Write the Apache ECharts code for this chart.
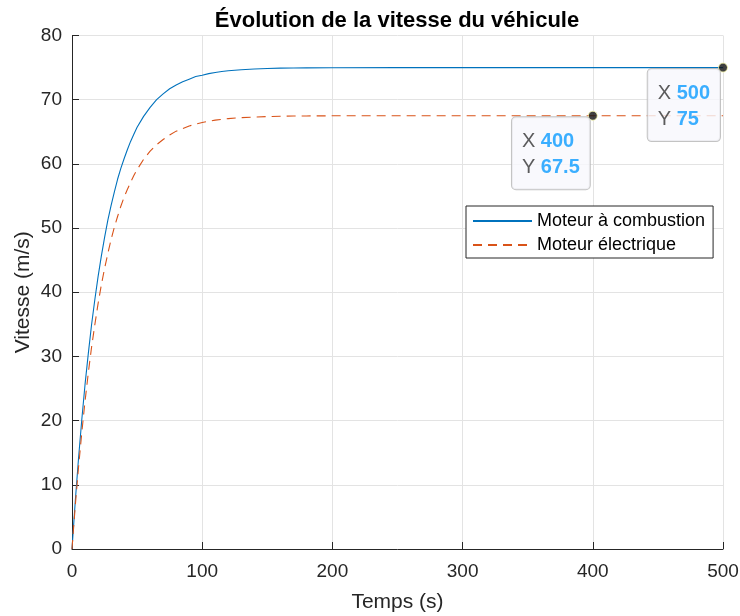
<!DOCTYPE html>
<html>
<head>
<meta charset="utf-8">
<script src="https://cdn.jsdelivr.net/npm/echarts@6/dist/echarts.min.js"></script>
<style>html,body{margin:0;padding:0;background:#fff;}#c{width:740px;height:616px;}</style>
</head>
<body>
<div id="c"></div>
<script>
// ---- data ----
const timeS = [0, 2.5, 5, 7.5, 10, 12.5, 15, 17.5, 20, 22.5, 25, 27.5, 30, 32.5, 35, 37.5, 40, 42.5, 45, 47.5, 50,
  55, 60, 65, 70, 75, 80, 85, 90, 95, 100, 105, 110, 115, 120, 130, 140, 150, 160, 170, 180, 200, 250, 300, 350, 400, 450, 500];
const vCombustion = [0, 7.4, 14.1, 20.1, 25.6, 30.4, 34.9, 38.8, 42.4, 45.6, 48.5, 51.2, 53.5, 55.6, 57.6, 59.3, 60.8, 62.2, 63.5, 64.6, 65.7,
  67.4, 68.8, 70.0, 70.9, 71.7, 72.3, 72.8, 73.2, 73.6, 73.8, 74.06, 74.24, 74.38, 74.5, 74.67, 74.78, 74.86, 74.91, 74.94, 74.96, 74.98, 75, 75, 75, 75, 75, 75];
const vElectrique = [0, 6.7, 12.7, 18.1, 23.0, 27.4, 31.4, 34.9, 38.2, 41.1, 43.7, 46.0, 48.2, 50.1, 51.8, 53.4, 54.8, 56.0, 57.1, 58.2, 59.1,
  60.7, 62.0, 63.0, 63.8, 64.5, 65.1, 65.5, 65.9, 66.2, 66.45, 66.65, 66.81, 66.94, 67.05, 67.2, 67.3, 67.37, 67.42, 67.45, 67.47, 67.49, 67.5, 67.5, 67.5, 67.5, 67.5, 67.5];
const seriesNames = ['Moteur à combustion', 'Moteur électrique'];
const tipX = [500, 400];
const tipY = [75, 67.5];
const xTicks = [0, 100, 200, 300, 400, 500];
const yTicks = [0, 10, 20, 30, 40, 50, 60, 70, 80];
const titleText = 'Évolution de la vitesse du véhicule';
const xName = 'Temps (s)';
const yName = 'Vitesse (m/s)';

const FONT = '"Liberation Sans", Arial, Helvetica, sans-serif';
const AX = '#262626';
const GRID = '#e3e3e3';

const pair = (xs, ys) => xs.map((x, i) => [x, ys[i]]);

const chart = echarts.init(document.getElementById('c'), null, {renderer: 'canvas'});
chart.setOption({
  animation: false,
  backgroundColor: '#ffffff',
  textStyle: {fontFamily: FONT},
  title: {
    text: titleText,
    left: 392,
    textAlign: 'center',
    top: 5,
    textStyle: {fontFamily: FONT, fontWeight: 'bold', fontSize: 22, color: '#000'}
  },
  grid: {left: 72, right: 17, top: 35.5, bottom: 67, containLabel: false, outerBoundsMode: 'none'},
  xAxis: {
    type: 'value',
    min: xTicks[0], max: xTicks[xTicks.length - 1], interval: xTicks[1] - xTicks[0],
    name: xName, nameLocation: 'middle', nameGap: 43, nameMoveOverlap: false,
    nameTextStyle: {fontFamily: FONT, fontSize: 21, color: AX},
    axisLine: {show: true, onZero: false, lineStyle: {color: AX, width: 1}},
    axisTick: {show: true, inside: true, length: 7, lineStyle: {color: AX}},
    axisLabel: {fontFamily: FONT, fontSize: 19, color: AX, margin: 13},
    splitLine: {show: true, lineStyle: {color: GRID, width: 1}}
  },
  yAxis: {
    type: 'value',
    min: yTicks[0], max: yTicks[yTicks.length - 1], interval: yTicks[1] - yTicks[0],
    name: yName, nameLocation: 'middle', nameGap: 38, nameMoveOverlap: false,
    nameTextStyle: {fontFamily: FONT, fontSize: 21, color: AX},
    axisLine: {show: true, onZero: false, lineStyle: {color: AX, width: 1}},
    axisTick: {show: true, inside: true, length: 7, lineStyle: {color: AX}},
    axisLabel: {fontFamily: FONT, fontSize: 19, color: AX, margin: 10},
    splitLine: {show: true, lineStyle: {color: GRID, width: 1}}
  },
  legend: {
    data: seriesNames,
    orient: 'vertical',
    left: 466, top: 206,
    padding: [6, 8, 4, 6],
    itemWidth: 59, itemHeight: 14, itemGap: 6,
    itemStyle: {opacity: 0},
    backgroundColor: '#fff',
    borderColor: AX, borderWidth: 1, borderRadius: 0,
    textStyle: {fontFamily: FONT, fontSize: 18, color: '#000'}
  },
  series: [
    {
      name: seriesNames[0], type: 'line', data: pair(timeS, vCombustion),
      symbol: 'none', smooth: false,
      lineStyle: {color: '#0072BD', width: 1.1},
      itemStyle: {color: '#0072BD'}, z: 3
    },
    {
      name: seriesNames[1], type: 'line', data: pair(timeS, vElectrique),
      symbol: 'none', smooth: false,
      lineStyle: {color: '#D95319', width: 1.1, type: [9, 6]},
      itemStyle: {color: '#D95319'}, z: 3
    },
    {
      name: 'tips', type: 'scatter', data: pair(tipX, tipY),
      symbol: 'circle', symbolSize: 9, z: 10,
      itemStyle: {color: '#111111', borderColor: '#ffffb0', borderWidth: 1},
      label: {
        show: true,
        position: [2, 6.5],
        align: 'right', verticalAlign: 'top',
        backgroundColor: '#f8f8fc',
        borderColor: '#b4b4b4', borderWidth: 1, borderRadius: 4,
        padding: [11, 10, 9, 10],
        lineHeight: 26,
        formatter: p => '{k|X }{v|' + p.value[0] + '}\n{k|Y }{v|' + p.value[1] + '}',
        rich: {
          k: {fontFamily: FONT, fontSize: 20, color: '#333', lineHeight: 26, align: 'left'},
          v: {fontFamily: FONT, fontSize: 20, fontWeight: 'bold', color: '#0a9bff', lineHeight: 26, align: 'left'}
        }
      },
      silent: true
    }
  ]
});
</script>
</body>
</html>
